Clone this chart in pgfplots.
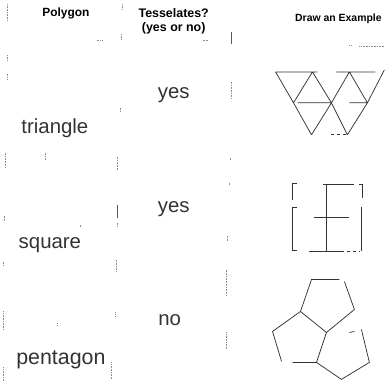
\documentclass[border=0pt]{standalone}
\usepackage{fontspec}
\setmainfont{Liberation Sans}
\usepackage{pgfplots}
\pgfplotsset{compat=1.18}

\begin{document}
\begin{tikzpicture}
\begin{axis}[
    width=385bp, height=381bp, scale only axis,
    xmin=0, xmax=385, ymin=0, ymax=381,
    y dir=reverse,
    hide axis, clip=false,
    unbounded coords=jump,
]
% keep the whole page
\addplot[draw=none] coordinates {(0,0)(385,381)};

% faint scanned ruling fragments
\addplot[black!45, line width=0.6pt, densely dotted] coordinates {
    (7,4)(7,20) (nan,nan) (7,55)(7,60) (nan,nan) (7,74)(7,80) (nan,nan)
    (5,153)(5,168) (nan,nan) (4,216)(4,222) (nan,nan) (3,262)(3,266) (nan,nan)
    (3,312)(3,330) (nan,nan) (3,368)(3,381) (nan,nan)
    (123,4)(123,10) (nan,nan) (121,34)(121,40) (nan,nan) (120,108)(120,112) (nan,nan)
    (117,157)(117,170) (nan,nan) (117,223)(117,227) (nan,nan)
    (116,260)(116,272) (nan,nan) (115,313)(115,317) (nan,nan) (111,363)(111,380) (nan,nan)
    (232,82)(232,98) (nan,nan) (231,158)(231,160) (nan,nan) (230,183)(230,186) (nan,nan)
    (228,236)(228,242) (nan,nan) (227,270)(227,296) (nan,nan) (227,333)(227,350) (nan,nan)
    (80,225)(80,228) (nan,nan) (45,153)(45,160) (nan,nan) (57,324)(57,327) (nan,nan)
    (350,45)(352,45) (nan,nan) (360,46)(384,46) (nan,nan)
    (97,40)(102,40) (nan,nan) (203,40)(208,40)
};
\addplot[black!65, line width=0.9pt] coordinates {
    (232,32)(232,44) (nan,nan) (118,205)(118,218)
};

% triangles
\addplot[black!80, line width=0.75pt] coordinates {
    (276,72)(318,72) (nan,nan) (337,72)(376,72) (nan,nan)
    (298,103)(332,103) (nan,nan) (350,103)(368,103) (nan,nan)
    (276,72)(294,103)(312,135) (nan,nan)
    (313,72)(332,103)(348,135) (nan,nan)
    (350,72)(368,103) (nan,nan)
    (313,72)(294,103) (nan,nan)
    (350,72)(332,103)(312,135) (nan,nan)
    (385,70)(368,103)(348,135)
};
\addplot[black!80, line width=0.75pt, dashed] coordinates {(332,135)(348,135)};

% squares
\addplot[black!80, line width=0.75pt] coordinates {
    (297,184)(293,184)(293,200) (nan,nan)
    (297,208)(293,208)(293,251)(297,251) (nan,nan)
    (324,185)(355,185) (nan,nan) (360,185)(363,185)(363,198) (nan,nan)
    (362,207)(362,251) (nan,nan)
    (327,185)(327,251) (nan,nan)
    (315,218)(350,218) (nan,nan)
    (310,252)(342,252)
};
\addplot[black!80, line width=0.75pt, dashed] coordinates {(342,252)(360,252)};

% pentagons
\addplot[black!80, line width=0.75pt] coordinates {
    (340,280)(312,280)(301,312)(327,333)(355,310)(345,282) (nan,nan)
    (301,312)(273,332)(282,362) (nan,nan)
    (293,363)(317,363)(327,333) (nan,nan)
    (317,363)(342,380)(370,363)(362,330) (nan,nan)
    (350,333)(355,332)
};

% header
\node[font=\bfseries\fontsize{12}{13}\selectfont] at (axis cs:66,13) {Polygon};
\node[font=\bfseries\fontsize{12.5}{14}\selectfont, align=center, inner sep=0pt]
    at (axis cs:174,21) {Tesselates?\\(yes or no)};
\node[font=\bfseries\fontsize{10.5}{12}\selectfont] at (axis cs:339,19) {Draw an Example};

% body
\node[font=\fontsize{20.5}{24}\selectfont, text=black!80] at (axis cs:174,95) {yes};
\node[font=\fontsize{20.5}{24}\selectfont, text=black!80] at (axis cs:55,128) {triangle};
\node[font=\fontsize{20.5}{24}\selectfont, text=black!80] at (axis cs:174,209) {yes};
\node[font=\fontsize{20.5}{24}\selectfont, text=black!80] at (axis cs:50,246) {square};
\node[font=\fontsize{20.5}{24}\selectfont, text=black!80] at (axis cs:170,321) {no};
\node[font=\fontsize{21.5}{24}\selectfont, text=black!80] at (axis cs:61,360) {pentagon};
\end{axis}
\end{tikzpicture}
\end{document}
